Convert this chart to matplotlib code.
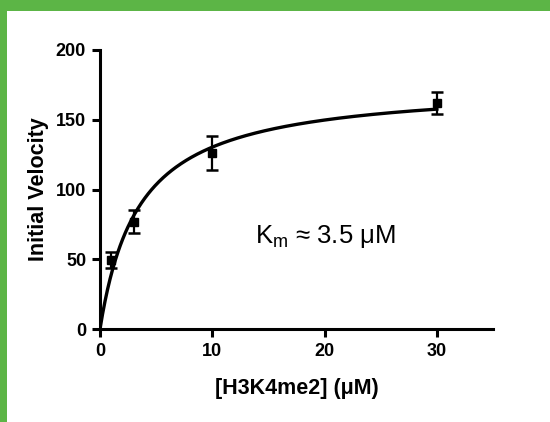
import numpy as np
import matplotlib
matplotlib.use("Agg")
import matplotlib.pyplot as plt
from matplotlib.patches import Rectangle

plt.rcParams['font.family'] = ['Liberation Sans', 'DejaVu Sans']

# Data
conc = [1, 3, 10, 30]
velocity = [49.5, 77, 126, 162]
errors = [6, 8, 12, 8]
# Michaelis-Menten fit parameters
km = 3.5
vmax = 176
xticks = [0, 10, 20, 30]
yticks = [0, 50, 100, 150, 200]

fig = plt.figure(figsize=(5.5, 4.22), dpi=100)
fig.patch.set_facecolor('#5cb546')
fig.patches.append(Rectangle((7/550, 0), 1 - 7/550, 1 - 11/422,
                             transform=fig.transFigure, facecolor='white',
                             edgecolor='none', zorder=-10))

ax = fig.add_axes([100/550, 1 - 329/422, (493 - 100)/550, (329 - 50)/422])
ax.set_facecolor('none')
ax.set_zorder(5)

xs = np.linspace(0, 30, 400)
ax.plot(xs, vmax * xs / (km + xs), color='black', lw=2.4, zorder=3)
ax.errorbar(conc, velocity, yerr=errors, fmt='s', color='black', ms=6,
            ecolor='black', elinewidth=1.6, capsize=4.5, capthick=1.8, zorder=4)

ax.set_xlim(0, 35)
ax.set_ylim(0, 200)
ax.set_xticks(xticks)
ax.set_yticks(yticks)
for s in ['top', 'right']:
    ax.spines[s].set_visible(False)
for s in ['left', 'bottom']:
    ax.spines[s].set_linewidth(2.2)
ax.spines['left'].set_bounds(0, 200)
ax.tick_params(width=2.2, length=6, labelsize=13, pad=4)
for lab in ax.get_xticklabels() + ax.get_yticklabels():
    lab.set_fontweight('bold')

ax.set_xlabel('[H3K4me2] (\u03bcM)', fontsize=15.5, fontweight='bold', labelpad=13)
ax.set_ylabel('Initial Velocity', fontsize=15.5, fontweight='bold', labelpad=5)

ax.text(0.394, 0.33, 'K$_{\\mathregular{m}}$ \u2248 3.5 \u03bcM',
        transform=ax.transAxes, fontsize=18.5, ha='left', va='center')

fig.savefig('out.png', dpi=100, facecolor=fig.get_facecolor())
